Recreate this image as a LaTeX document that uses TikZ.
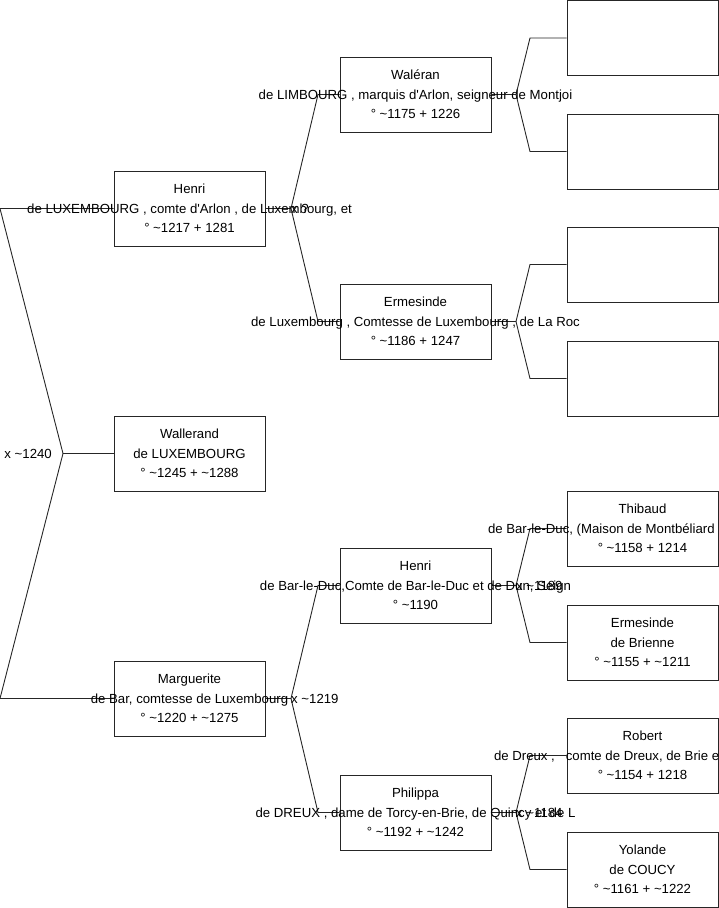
\documentclass[tikz,border=0pt]{standalone}
\usepackage{fontspec}
\setmainfont{Liberation Sans}
\newcommand{\tildech}{\textasciitilde}
\newcommand{\apos}{\textquotesingle}
\begin{document}
\begin{tikzpicture}[x=1pt,y=-1pt,
  pbox/.style={draw=black!85, line width=0.9pt, minimum width=151pt, minimum height=75pt, inner sep=0pt},
  ptext/.style={align=center, inner sep=0pt, font=\fontsize{13.2}{19.5}\selectfont},
  link/.style={draw=black!85, line width=0.9pt},
  mlabel/.style={inner sep=0pt, font=\fontsize{13.2}{16}\selectfont, anchor=west}]
\useasboundingbox (0,0) rectangle (719,908);
\clip (0,0) rectangle (719,908);

% generation 0
\node[pbox] (henri) at (189.5,208.5) {};
\node[pbox] (wall)  at (189.5,453.5) {};
\node[pbox] (marg)  at (189.5,698.5) {};
% generation 1
\node[pbox] (wal)   at (415.5,94.5) {};
\node[pbox] (erm)   at (415.5,321.5) {};
\node[pbox] (hbar)  at (415.5,585.5) {};
\node[pbox] (phil)  at (415.5,812.5) {};
% generation 2
\node[pbox] (e1) at (642.5,38) {};
\node[pbox] (e2) at (642.5,151.5) {};
\node[pbox] (e3) at (642.5,264.5) {};
\node[pbox] (e4) at (642.5,378.5) {};
\node[pbox] (thib) at (642.5,528.5) {};
\node[pbox] (ermb) at (642.5,642.5) {};
\node[pbox] (rob)  at (642.5,755.5) {};
\node[pbox] (yol)  at (642.5,869.5) {};

% fork coordinates
\coordinate (c0) at (63,453.5);
\coordinate (c0a) at (0,208.5);
\coordinate (c0b) at (0,698.5);
\coordinate (c1) at (291,208.5);
\coordinate (c1a) at (318,94.5);
\coordinate (c1b) at (318,321.5);
\coordinate (c2) at (291,698.5);
\coordinate (c2a) at (318,585.5);
\coordinate (c2b) at (318,812.5);
\coordinate (c3) at (516,94.5);
\coordinate (c3a) at (530,38);
\coordinate (c3b) at (530,151.5);
\coordinate (c4) at (516,321.5);
\coordinate (c4a) at (530,264.5);
\coordinate (c4b) at (530,378.5);
\coordinate (c5) at (516,585.5);
\coordinate (c5a) at (530,528.5);
\coordinate (c5b) at (530,642.5);
\coordinate (c6) at (516,812.5);
\coordinate (c6a) at (530,755.5);
\coordinate (c6b) at (530,869.5);

% connectors
\draw[link] (henri.west) -- (c0a) -- (c0) -- (c0b) -- (marg.west);
\draw[link] (c0) -- (wall.west);
\draw[link] (henri.east) -- (c1);
\draw[link] (wal.west) -- (c1a) -- (c1) -- (c1b) -- (erm.west);
\draw[link] (marg.east) -- (c2);
\draw[link] (hbar.west) -- (c2a) -- (c2) -- (c2b) -- (phil.west);
\draw[link] (wal.east) -- (c3);
\draw[link] (e1.west) -- (c3a) -- (c3) -- (c3b) -- (e2.west);
\draw[link] (erm.east) -- (c4);
\draw[link] (e3.west) -- (c4a) -- (c4) -- (c4b) -- (e4.west);
\draw[link] (hbar.east) -- (c5);
\draw[link] (thib.west) -- (c5a) -- (c5) -- (c5b) -- (ermb.west);
\draw[link] (phil.east) -- (c6);
\draw[link] (rob.west) -- (c6a) -- (c6) -- (c6b) -- (yol.west);

% texts
\node[ptext] (t-henri) at (henri) {Henri\\de LUXEMBOURG , comte d\apos Arlon , de Luxembourg, et\\° \tildech1217 + 1281};
\node[ptext] (t-wall) at (wall) {Wallerand\\de LUXEMBOURG\\° \tildech1245 + \tildech1288};
\node[ptext] (t-marg) at (marg) {Marguerite\\de Bar, comtesse de Luxembourg\\° \tildech1220 + \tildech1275};
\node[ptext] (t-wal) at (wal) {Waléran\\de LIMBOURG , marquis d\apos Arlon, seigneur de Montjoi\\° \tildech1175 + 1226};
\node[ptext] (t-erm) at (erm) {Ermesinde\\de Luxembourg , Comtesse de Luxembourg , de La Roc\\° \tildech1186 + 1247};
\node[ptext] (t-hbar) at (hbar) {Henri\\de Bar-le-Duc,Comte de Bar-le-Duc et de Dun, Seign\\° \tildech1190};
\node[ptext] (t-phil) at (phil) {Philippa\\de DREUX , dame de Torcy-en-Brie, de Quincy et de L\\° \tildech1192 + \tildech1242};
\node[ptext] (t-thib) at (thib) {Thibaud\\\makebox[309pt][l]{de Bar-le-Duc, (Maison de Montbéliard}\\° \tildech1158 + 1214};
\node[ptext] (t-ermb) at (ermb) {Ermesinde\\de Brienne\\° \tildech1155 + \tildech1211};
\node[ptext] (t-rob) at (rob) {Robert\\\makebox[297pt][l]{de Dreux ,\hspace{11pt}comte de Dreux, de Brie e}\\° \tildech1154 + 1218};
\node[ptext] (t-yol) at (yol) {Yolande\\de COUCY\\° \tildech1161 + \tildech1222};

% marriage labels
\node[mlabel, anchor=east, xshift=-11pt] (m0) at (c0) {x \tildech1240};
\node[mlabel] (m1) at (c1) {x ?};
\node[mlabel] (m2) at (c2) {x \tildech1219};
\node[mlabel] (m5) at (c5) {x \tildech1189};
\node[mlabel] (m6) at (c6) {x \tildech1184};
\end{tikzpicture}
\end{document}
